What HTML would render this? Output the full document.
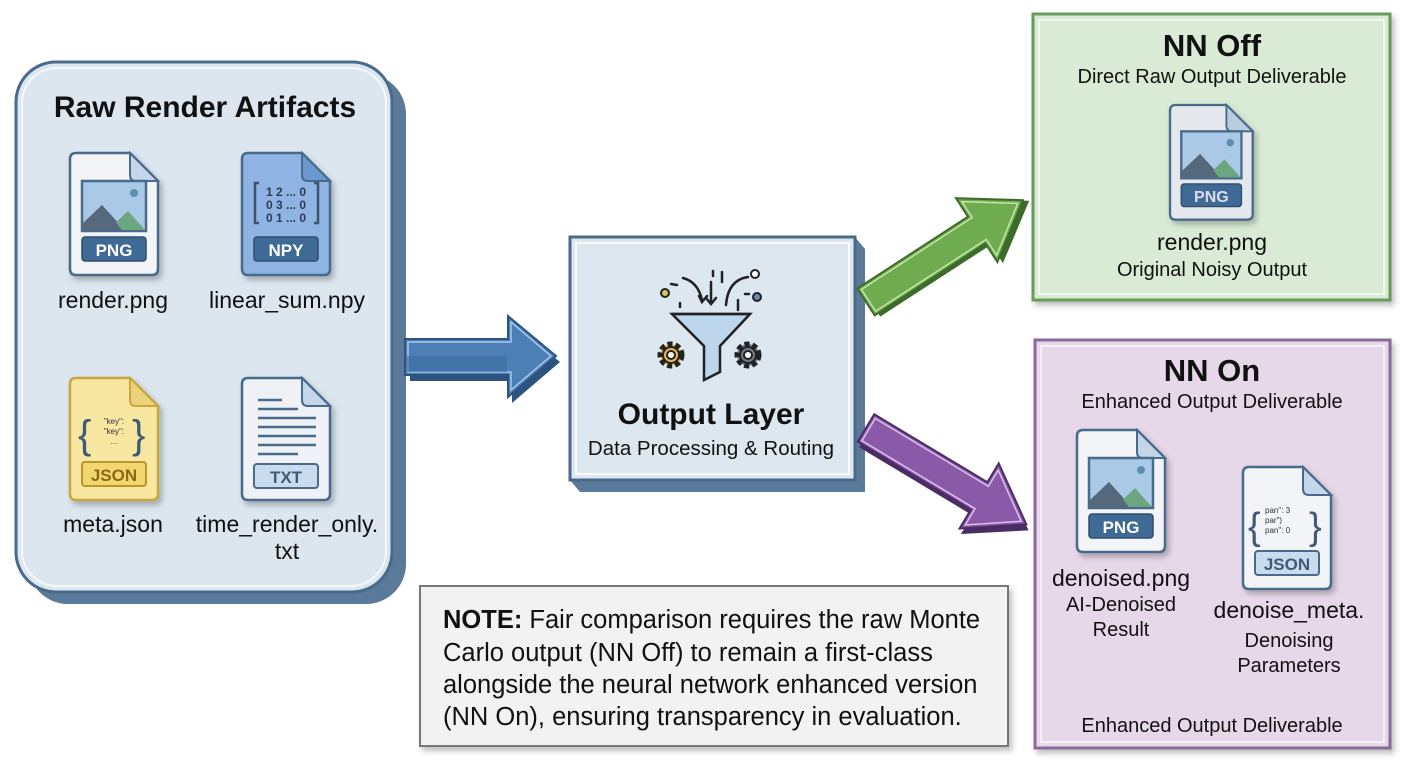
<!DOCTYPE html>
<html><head><meta charset="utf-8"><style>
html,body{margin:0;padding:0;background:#fff;}
svg{display:block;font-family:"Liberation Sans",Arial,sans-serif;}
</style></head><body>
<svg width="1408" height="768" viewBox="0 0 1408 768" xmlns="http://www.w3.org/2000/svg">
<defs>
<filter id="sh" x="-10%" y="-10%" width="130%" height="130%"><feDropShadow dx="3" dy="4" stdDeviation="3" flood-color="#000" flood-opacity="0.25"/></filter>
<g id="pic">
<rect x="12" y="28" width="64" height="50" fill="#a9c9e6" stroke="#4a6a8a" stroke-width="2.5"/>
<path d="M13,72 L32,52 L50,72Z" fill="#4f6278"/>
<path d="M38,77 L58,58 L75,77Z" fill="#6aa680"/>
<path d="M13,77 L13,70 L32,52 L52,77Z" fill="#55677c"/>
<circle cx="64" cy="40" r="4" fill="#5f8fb0"/>
</g>
</defs>

<!-- Left panel -->
<rect x="28" y="74" width="378" height="530" rx="40" fill="#5b7a99"/>
<rect x="16" y="62" width="376" height="530" rx="40" fill="#dbe6ef" stroke="#4a6a8a" stroke-width="3"/>
<rect x="22" y="68" width="364" height="518" rx="35" fill="none" stroke="#fff" stroke-width="2" opacity="0.7"/>
<text x="205" y="117" font-size="30" font-weight="bold" text-anchor="middle" fill="#111">Raw Render Artifacts</text>

<!-- PNG icon -->
<g transform="translate(70,153)" filter="url(#sh)">
<path d="M6,0 H60 L88,28 V116 Q88,122 82,122 H6 Q0,122 0,116 V6 Q0,0 6,0Z" fill="#f2f4f7" stroke="#4a6a8a" stroke-width="2.5"/>
<path d="M60,0 V22 Q60,28 66,28 H88Z" fill="#c3d6ea" stroke="#4a6a8a" stroke-width="2"/>
<use href="#pic"/>
<rect x="12" y="84" width="64" height="24" rx="3" fill="#3f6a96" stroke="#2e4e70" stroke-width="1.5"/>
<text x="44" y="103" font-size="17" font-weight="bold" fill="#fff" text-anchor="middle">PNG</text>
</g>
<text x="113" y="308" font-size="23" text-anchor="middle" fill="#111">render.png</text>

<!-- NPY icon -->
<g transform="translate(242,153)" filter="url(#sh)">
<path d="M6,0 H60 L88,28 V116 Q88,122 82,122 H6 Q0,122 0,116 V6 Q0,0 6,0Z" fill="#8fb3e3" stroke="#4a6a8a" stroke-width="2.5"/>
<path d="M60,0 V22 Q60,28 66,28 H88Z" fill="#6c97d0" stroke="#4a6a8a" stroke-width="2"/>
<path d="M17,30 H13 V70 H17 M72,30 H76 V70 H72" fill="none" stroke="#3a5470" stroke-width="2.5"/>
<text x="44" y="43" font-size="12" font-weight="bold" text-anchor="middle" fill="#2c3e55">1 2 ... 0</text>
<text x="44" y="56" font-size="12" font-weight="bold" text-anchor="middle" fill="#2c3e55">0 3 ... 0</text>
<text x="44" y="69" font-size="12" font-weight="bold" text-anchor="middle" fill="#2c3e55">0 1 ... 0</text>
<rect x="12" y="84" width="64" height="24" rx="3" fill="#3f6a96" stroke="#2e4e70" stroke-width="1.5"/>
<text x="44" y="103" font-size="17" font-weight="bold" fill="#fff" text-anchor="middle">NPY</text>
</g>
<text x="287" y="308" font-size="23" text-anchor="middle" fill="#111">linear_sum.npy</text>

<!-- JSON icon -->
<g transform="translate(70,378)" filter="url(#sh)">
<path d="M6,0 H60 L88,28 V116 Q88,122 82,122 H6 Q0,122 0,116 V6 Q0,0 6,0Z" fill="#f7e7a0" stroke="#c9a640" stroke-width="2.5"/>
<path d="M60,0 V22 Q60,28 66,28 H88Z" fill="#ecd37a" stroke="#c9a640" stroke-width="2"/>
<text x="8" y="70" font-size="40" fill="#3f5a78">{</text>
<text x="62" y="70" font-size="40" fill="#3f5a78">}</text>
<text x="44" y="46" font-size="8" text-anchor="middle" fill="#333">"key":</text>
<text x="44" y="56" font-size="8" text-anchor="middle" fill="#333">"key":</text>
<text x="44" y="66" font-size="8" text-anchor="middle" fill="#333">...</text>
<rect x="12" y="84" width="64" height="24" rx="3" fill="#f2d66f" stroke="#b8952e" stroke-width="2"/>
<text x="44" y="103" font-size="17" font-weight="bold" fill="#8a6a18" text-anchor="middle">JSON</text>
</g>
<text x="113" y="532" font-size="23" text-anchor="middle" fill="#111">meta.json</text>

<!-- TXT icon -->
<g transform="translate(242,378)" filter="url(#sh)">
<path d="M6,0 H60 L88,28 V116 Q88,122 82,122 H6 Q0,122 0,116 V6 Q0,0 6,0Z" fill="#eef2f6" stroke="#4a6a8a" stroke-width="2.5"/>
<path d="M60,0 V22 Q60,28 66,28 H88Z" fill="#c3d6ea" stroke="#4a6a8a" stroke-width="2"/>
<path d="M16,22 H40 M16,31 H56 M16,40 H74 M16,49 H74 M16,58 H74 M16,67 H74 M16,76 H56" stroke="#4a6a8a" stroke-width="2.5"/>
<rect x="12" y="86" width="64" height="24" rx="3" fill="#c9dcee" stroke="#4a6a8a" stroke-width="2"/>
<text x="44" y="105" font-size="17" font-weight="bold" fill="#3f5a78" text-anchor="middle">TXT</text>
</g>
<text x="287" y="532" font-size="23" text-anchor="middle" fill="#111">time_render_only.</text>
<text x="287" y="559" font-size="23" text-anchor="middle" fill="#111">txt</text>

<!-- Blue arrow -->
<path d="M410,345 H512 V322 L560,362 L512,403 V381 H410Z" fill="#2d5480"/>
<path d="M405,339 H508 V316 L556,356 L508,397 V375 H405Z" fill="#4b7fb5" stroke="#2d5480" stroke-width="2"/>
<path d="M408,342 H511 V322 L551,356 L511,390 V372 H408Z" fill="none" stroke="#a8c8ea" stroke-width="1.5"/>
<rect x="407" y="356" width="100" height="16" fill="#3d6d9e" opacity="0.6"/>

<!-- Center box -->
<path d="M570,480 L580,492 H865 L865,249 L855,237 V480Z" fill="#5b7a99"/>
<rect x="570" y="237" width="285" height="243" fill="#dde7ef" stroke="#4a6a8a" stroke-width="3"/>
<rect x="576" y="243" width="273" height="231" fill="none" stroke="#fff" stroke-width="2" opacity="0.8"/>
<!-- funnel -->
<g stroke="#222" stroke-width="2.5" fill="none" stroke-linecap="round">
<path d="M672,314 H750 L720,346 V372 L704,380 V346Z" fill="#bcd6ec"/>
<path d="M672,314 H750"/>
<path d="M683,278 Q698,282 702,300 M699,296 L702,302 L707,296"/>
<path d="M711,282 V304 M706,298 L711,304 L716,298"/>
<path d="M726,305 Q728,280 748,277"/>
<path d="M671,284 L677,285 M680,303 V307 M738,300 V310 M745,294 L749,294 M722,272 V282 M713,271 V276"/>
</g>
<circle cx="665" cy="293" r="4" fill="#d8c35c" stroke="#222" stroke-width="2"/>
<circle cx="755" cy="274" r="4" fill="#fff" stroke="#222" stroke-width="2"/>
<circle cx="757" cy="297" r="4" fill="#6a8ab0" stroke="#222" stroke-width="2"/>
<g stroke="#222" stroke-width="2">
<circle cx="671" cy="355" r="11" fill="#e8b95a" stroke-dasharray="5 3" stroke-width="5"/>
<circle cx="671" cy="355" r="8" fill="#e8b95a"/>
<circle cx="671" cy="355" r="4" fill="#fff"/>
<circle cx="748" cy="355" r="11" fill="#6d7b8a" stroke-dasharray="5 3" stroke-width="5"/>
<circle cx="748" cy="355" r="8" fill="#6d7b8a"/>
<circle cx="748" cy="355" r="4" fill="#fff"/>
</g>
<text x="711" y="424" font-size="30" font-weight="bold" text-anchor="middle" fill="#111">Output Layer</text>
<text x="711" y="455" font-size="20.5" text-anchor="middle" fill="#111">Data Processing &amp; Routing</text>

<!-- Green arrow -->
<g transform="translate(866,302) rotate(-33)">
<path d="M4,-12 H136 V-34 L192,4 L136,42 V20 H4Z" fill="#3d6b2c"/>
<path d="M0,-16 H132 V-38 L187,0 L132,38 V16 H0Z" fill="#6fab4f" stroke="#3d6b2c" stroke-width="2"/>
<path d="M3,-13 H135 V-32 L181,0 L135,32 V13 H3Z" fill="none" stroke="#c5e6a8" stroke-width="1.5"/>
</g>

<!-- Purple arrow -->
<g transform="translate(866,428) rotate(31)">
<path d="M4,-12 H136 V-34 L192,4 L136,42 V20 H4Z" fill="#4a2d63"/>
<path d="M0,-16 H132 V-38 L187,0 L132,38 V16 H0Z" fill="#8a5aa8" stroke="#4a2d63" stroke-width="2"/>
<path d="M3,-13 H135 V-32 L181,0 L135,32 V13 H3Z" fill="none" stroke="#dcc0ef" stroke-width="1.5"/>
</g>

<!-- NN Off -->
<rect x="1033" y="14" width="357" height="286" fill="#d9ebd5" stroke="#6a9a5a" stroke-width="3" filter="url(#sh)"/>
<rect x="1039" y="20" width="345" height="274" fill="none" stroke="#fff" stroke-width="1.5" opacity="0.8"/>
<text x="1212" y="56" font-size="31" font-weight="bold" text-anchor="middle" fill="#111">NN Off</text>
<text x="1212" y="83" font-size="20" text-anchor="middle" fill="#111">Direct Raw Output Deliverable</text>
<g transform="translate(1170,105) scale(0.94)" filter="url(#sh)">
<path d="M6,0 H60 L88,28 V116 Q88,122 82,122 H6 Q0,122 0,116 V6 Q0,0 6,0Z" fill="#e4e8ec" stroke="#4a6a8a" stroke-width="2.5"/>
<path d="M60,0 V22 Q60,28 66,28 H88Z" fill="#b9cde0" stroke="#4a6a8a" stroke-width="2"/>
<use href="#pic"/>
<rect x="12" y="84" width="64" height="24" rx="3" fill="#3f6a96" stroke="#2e4e70" stroke-width="1.5"/>
<text x="44" y="103" font-size="17" font-weight="bold" fill="#dde" text-anchor="middle">PNG</text>
</g>
<text x="1212" y="250" font-size="23" text-anchor="middle" fill="#111">render.png</text>
<text x="1212" y="276" font-size="20" text-anchor="middle" fill="#111">Original Noisy Output</text>

<!-- NN On -->
<rect x="1035" y="340" width="355" height="408" fill="#e6d8e8" stroke="#8a6a9a" stroke-width="3" filter="url(#sh)"/>
<rect x="1041" y="346" width="343" height="396" fill="none" stroke="#fff" stroke-width="1.5" opacity="0.8"/>
<text x="1212" y="381" font-size="31" font-weight="bold" text-anchor="middle" fill="#111">NN On</text>
<text x="1212" y="408" font-size="20" text-anchor="middle" fill="#111">Enhanced Output Deliverable</text>
<g transform="translate(1077,430)" filter="url(#sh)">
<path d="M6,0 H60 L88,28 V116 Q88,122 82,122 H6 Q0,122 0,116 V6 Q0,0 6,0Z" fill="#f2f4f7" stroke="#4a6a8a" stroke-width="2.5"/>
<path d="M60,0 V22 Q60,28 66,28 H88Z" fill="#c3d6ea" stroke="#4a6a8a" stroke-width="2"/>
<use href="#pic"/>
<rect x="12" y="84" width="64" height="24" rx="3" fill="#3f6a96" stroke="#2e4e70" stroke-width="1.5"/>
<text x="44" y="103" font-size="17" font-weight="bold" fill="#fff" text-anchor="middle">PNG</text>
</g>
<text x="1121" y="586" font-size="23" text-anchor="middle" fill="#111">denoised.png</text>
<text x="1121" y="611" font-size="20" text-anchor="middle" fill="#111">AI-Denoised</text>
<text x="1121" y="636" font-size="20" text-anchor="middle" fill="#111">Result</text>
<g transform="translate(1243,467)" filter="url(#sh)">
<path d="M6,0 H60 L88,28 V116 Q88,122 82,122 H6 Q0,122 0,116 V6 Q0,0 6,0Z" fill="#f2f4f7" stroke="#4a6a8a" stroke-width="2.5"/>
<path d="M60,0 V22 Q60,28 66,28 H88Z" fill="#c3d6ea" stroke="#4a6a8a" stroke-width="2"/>
<text x="5" y="72" font-size="38" fill="#3f5a78">{</text>
<text x="66" y="72" font-size="38" fill="#3f5a78">}</text>
<text x="22" y="46" font-size="8" fill="#333">pan": 3</text>
<text x="22" y="56" font-size="8" fill="#333">par")</text>
<text x="22" y="66" font-size="8" fill="#333">pan": 0</text>
<rect x="12" y="84" width="64" height="24" rx="3" fill="#c9dcee" stroke="#4a6a8a" stroke-width="2"/>
<text x="44" y="103" font-size="17" font-weight="bold" fill="#3f5a78" text-anchor="middle">JSON</text>
</g>
<text x="1289" y="618" font-size="23" text-anchor="middle" fill="#111">denoise_meta.</text>
<text x="1289" y="647" font-size="20" text-anchor="middle" fill="#111">Denoising</text>
<text x="1289" y="672" font-size="20" text-anchor="middle" fill="#111">Parameters</text>
<text x="1212" y="732" font-size="20" text-anchor="middle" fill="#111">Enhanced Output Deliverable</text>

<!-- Note -->
<rect x="420" y="586" width="588" height="160" fill="#f2f2f2" stroke="#777" stroke-width="2" filter="url(#sh)"/>
<g font-size="25.5" fill="#111">
<text x="443" y="628"><tspan font-weight="bold">NOTE:</tspan> Fair comparison requires the raw Monte</text>
<text x="443" y="661">Carlo output (NN Off) to remain a first-class</text>
<text x="443" y="693">alongside the neural network enhanced version</text>
<text x="443" y="725">(NN On), ensuring transparency in evaluation.</text>
</g>
</svg>
</body></html>
